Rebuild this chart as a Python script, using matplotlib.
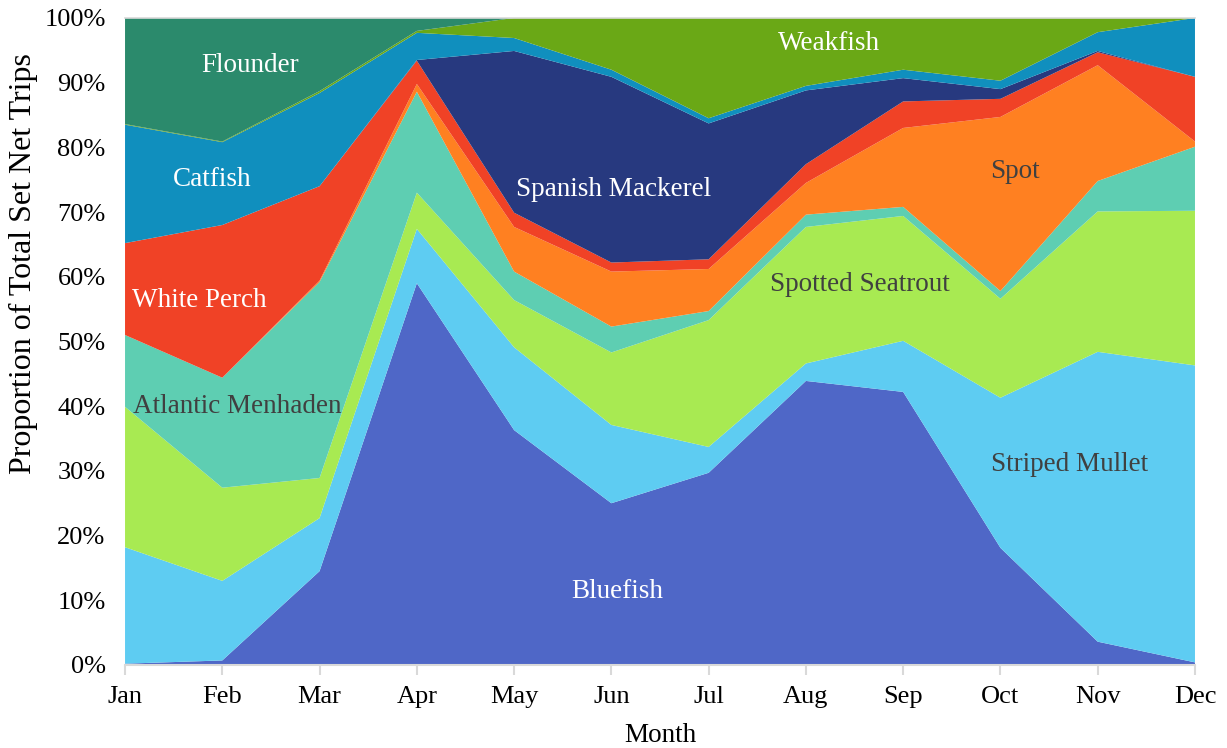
import numpy as np
import matplotlib
matplotlib.use('Agg')
import matplotlib.pyplot as plt

# 月份
months = ['Jan', 'Feb', 'Mar', 'Apr', 'May', 'Jun', 'Jul', 'Aug', 'Sep', 'Oct', 'Nov', 'Dec']

# 各鱼种占比 (%)，从下往上堆叠
bluefish = [0.2, 0.7, 14.5, 59.0, 36.3, 25.0, 29.7, 43.9, 42.2, 18.1, 3.6, 0.4]
striped_mullet = [18.0, 12.3, 8.2, 8.4, 12.8, 12.1, 4.0, 2.7, 7.9, 23.2, 44.8, 45.9]
spotted_seatrout = [21.7, 14.4, 6.2, 5.6, 7.3, 11.2, 19.6, 21.1, 19.3, 15.3, 21.7, 23.9]
atlantic_menhaden = [11.1, 17.0, 30.3, 15.6, 4.4, 4.0, 1.4, 1.9, 1.4, 1.2, 4.7, 9.9]
spot = [0.0, 0.0, 0.2, 1.2, 6.9, 8.5, 6.5, 4.9, 12.2, 26.9, 17.9, 0.8]
white_perch = [14.2, 23.6, 14.6, 3.6, 2.2, 1.4, 1.5, 2.9, 4.1, 2.8, 2.0, 10.0]
spanish_mackerel = [0.0, 0.0, 0.0, 0.1, 25.0, 28.7, 21.0, 11.4, 3.6, 1.5, 0.2, 0.0]
catfish = [18.3, 12.8, 14.4, 4.2, 2.0, 1.1, 0.8, 0.7, 1.3, 1.3, 2.9, 9.1]
weakfish = [0.1, 0.1, 0.3, 0.3, 3.1, 8.0, 15.5, 10.5, 8.0, 9.7, 2.2, 0.0]
flounder = [16.4, 19.1, 11.3, 2.0, 0.0, 0.0, 0.0, 0.0, 0.0, 0.0, 0.0, 0.0]

series = [bluefish, striped_mullet, spotted_seatrout, atlantic_menhaden, spot,
          white_perch, spanish_mackerel, catfish, weakfish, flounder]
colors = ['#4F67C7', '#5ECCF2', '#A8EA52', '#5ECEB2', '#FF8021',
          '#F04226', '#27397F', '#108FBE', '#6AA816', '#2B8A6C']

# 区域标签: (文字, x位置(月份索引), y位置(%), 颜色)
labels = [
    ('Flounder', 1.29, 92.6, 'white'),
    ('Catfish', 0.90, 75.0, 'white'),
    ('White Perch', 0.76, 56.4, 'white'),
    ('Atlantic Menhaden', 1.15, 40.0, '#404040'),
    ('Spanish Mackerel', 5.02, 73.5, 'white'),
    ('Weakfish', 7.24, 96.0, 'white'),
    ('Spot', 9.15, 76.2, '#404040'),
    ('Spotted Seatrout', 7.56, 58.8, '#404040'),
    ('Striped Mullet', 9.71, 31.0, '#404040'),
    ('Bluefish', 5.06, 11.4, 'white'),
]

plt.rcParams['font.family'] = ['Liberation Serif', 'DejaVu Serif']

fig = plt.figure(figsize=(12.27, 7.48), dpi=100)
ax = fig.add_axes([0.1019, 0.111, 0.872, 0.865])

x = np.arange(len(months))
ax.stackplot(x, np.array(series), colors=colors, linewidth=0, antialiased=True)

for text, lx, ly, c in labels:
    ax.text(lx, ly, text, color=c, fontsize=19.5, ha='center', va='center')

ax.set_xlim(0, len(months) - 1)
ax.set_ylim(0, 100)
ax.set_xticks(x)
ax.set_xticklabels(months, fontsize=19)
ax.set_yticks(np.arange(0, 101, 10))
ax.set_yticklabels([f'{v}%' for v in range(0, 101, 10)], fontsize=19)
ax.tick_params(axis='y', length=0, pad=14)
ax.tick_params(axis='x', length=7, width=1.5, color='#D9D9D9', pad=8)

ax.set_xlabel('Month', fontsize=19.5, labelpad=11)
ax.set_ylabel('Proportion of Total Set Net Trips', fontsize=23, va='center')
# 纵轴标题位置偏上
ax.yaxis.set_label_coords(-0.095, 0.62)

for side in ['left', 'right']:
    ax.spines[side].set_visible(False)
ax.spines['bottom'].set_color('#D9D9D9')
ax.spines['bottom'].set_linewidth(1.5)
ax.spines['top'].set_color('#D9D9D9')
ax.spines['top'].set_linewidth(1.2)

fig.savefig('out.png', dpi=100)
